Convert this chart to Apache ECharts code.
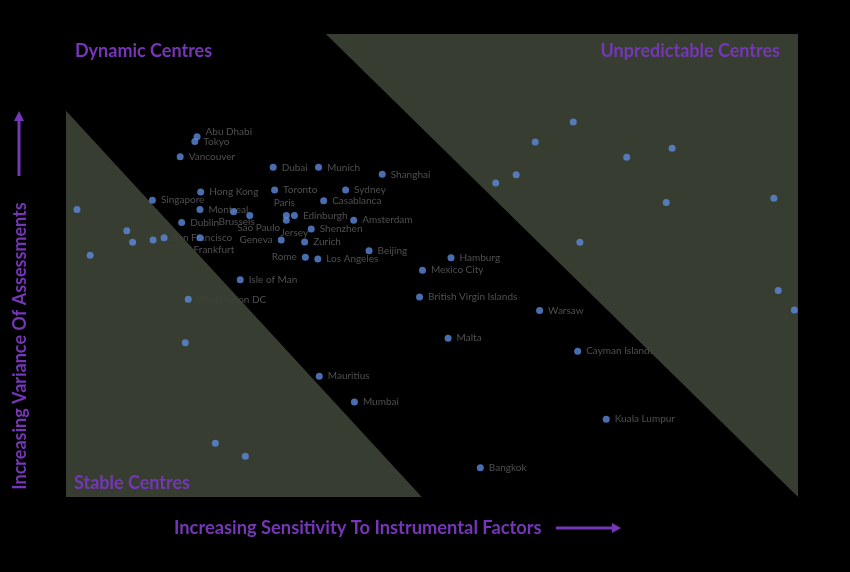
<!DOCTYPE html>
<html>
<head>
<meta charset="utf-8">
<script src="https://cdn.jsdelivr.net/npm/echarts@6/dist/echarts.min.js"></script>
<style>html,body{margin:0;padding:0;background:#000;}#c{width:850px;height:572px;}</style>
</head>
<body>
<div id="c"></div>
<script>
// City names ('' = point whose label is not legible in the reference)
const cities = [
  'Abu Dhabi','Tokyo','Vancouver','Dubai','Munich','Shanghai','Hong Kong','Toronto','Sydney','Singapore',
  'Casablanca','Montreal','Paris','Edinburgh','Brussels','Sao Paulo','Jersey','Dublin','Shenzhen','Amsterdam',
  'San Francisco','Frankfurt','Geneva','Zurich','Beijing','Rome','Los Angeles','Hamburg','Mexico City','Isle of Man',
  'Washington DC','British Virgin Islands','Warsaw','Malta','Cayman Islands','Mauritius','Mumbai','Kuala Lumpur','Bangkok',
  '','','','','','','','','','','','','','','','','','',''
];
// Sensitivity to instrumental factors (x)
const sensitivity = [
  17.9,17.6,15.6,28.3,34.5,43.2,18.4,28.5,38.2,11.8,
  35.2,18.3,30.1,31.2,22.9,25.1,30.1,15.8,33.5,39.3,
  13.4,18.3,29.4,32.6,41.4,32.7,34.4,52.6,48.7,23.8,
  16.7,48.3,64.7,52.2,69.9,34.6,39.4,73.8,56.6,
  1.5,8.3,9.1,11.9,3.3,16.3,20.4,24.5,69.3,64.1,76.6,82.8,61.5,58.7,82.0,96.7,70.2,97.3,99.5
];
// Variance of assessments (y)
const variance = [
  77.8,76.8,73.5,71.2,71.2,69.7,65.9,66.3,66.3,64.1,
  64.0,62.1,60.8,60.8,61.6,60.8,59.8,59.3,57.9,59.8,
  56.0,56.0,55.5,55.1,53.2,51.8,51.4,51.7,49.0,46.9,
  42.7,43.2,40.3,34.3,31.5,26.1,20.5,16.8,6.3,
  62.1,57.5,55.0,55.5,52.2,33.3,11.6,8.8,81.0,76.7,73.4,75.3,69.6,67.8,63.6,64.5,55.0,44.6,40.4
];
// Quadrant regions (in axis units)
const stableRegion = [[0,0],[0,83.4],[48.6,0]];
const unpredictableRegion = [[35.5,100],[100,100],[100,0]];
const regions = [stableRegion, unpredictableRegion];

// label placement overrides
const labelPlacement = {
  'Abu Dhabi': {position:'right', offset:[0,-5]},
  'Paris': {position:'top', offset:[-2,1]},
  'Jersey': {position:'bottom', offset:[8,-1]},
  'Brussels': {position:'bottom', offset:[3,-4]},
  'Sao Paulo': {position:'bottom', offset:[9,-1]},
  'Geneva': {position:'left'},
  'Rome': {position:'left'},
  'Frankfurt': {position:'bottom', offset:[14,-1]}
};

const labelItems = [];
cities.forEach((name,i)=>{
  if (!name) return;
  const item = {name:name, value:[sensitivity[i], variance[i]]};
  if (labelPlacement[name]) item.label = Object.assign({show:true}, labelPlacement[name]);
  labelItems.push(item);
});
const dotItems = cities.map((name,i)=>({name:name, value:[sensitivity[i], variance[i]]}));

const purple = '#7536b8';
const chart = echarts.init(document.getElementById('c'));
chart.setOption({
  backgroundColor:'#000',
  animation:false,
  grid:{left:66, top:34, width:732, height:463},
  xAxis:{type:'value', min:0, max:100, show:false},
  yAxis:{type:'value', min:0, max:100, show:false},
  series:[
    {
      // labels sit beneath the shaded regions, as in the reference
      type:'scatter', z:0, silent:true,
      symbolSize:7, itemStyle:{color:'rgba(0,0,0,0)'},
      label:{show:true, position:'right', distance:5, formatter:'{b}', color:'#636363', fontSize:10, fontFamily:'Lato'},
      data:labelItems
    },
    {
      type:'custom', silent:true, z:1,
      data:[[0],[1]],
      renderItem:function(params, api){
        const pts = regions[params.dataIndex].map(p=>api.coord(p));
        return {type:'polygon', shape:{points:pts}, style:{fill:'rgba(59,67,53,0.93)'}};
      }
    },
    {
      type:'scatter', z:5,
      symbolSize:7,
      itemStyle:{color:'#5b89dc'},
      data:dotItems
    }
  ],
  graphic:{elements:[
    {type:'text', z:100, left:75, top:42, style:{text:'Dynamic Centres', fill:purple, font:'bold 18px Lato'}},
    {type:'text', z:100, right:70, top:42, style:{text:'Unpredictable Centres', fill:purple, font:'bold 18px Lato'}},
    {type:'text', z:100, left:74, top:474, style:{text:'Stable Centres', fill:purple, font:'bold 18px Lato'}},
    {type:'text', z:100, left:174, top:519, style:{text:'Increasing Sensitivity To Instrumental Factors', fill:purple, font:'bold 18.3px Lato'}},
    {type:'line', z:100, shape:{x1:556, y1:528, x2:614, y2:528}, style:{stroke:purple, lineWidth:3}},
    {type:'polygon', z:100, shape:{points:[[612,523],[621,528],[612,533]]}, style:{fill:purple}},
    {type:'text', z:100, x:20, y:346, rotation:Math.PI/2, style:{text:'Increasing Variance Of Assessments', fill:purple, font:'bold 18px Lato', align:'center', verticalAlign:'middle'}},
    {type:'line', z:100, shape:{x1:19, y1:176, x2:19, y2:119}, style:{stroke:purple, lineWidth:3}},
    {type:'polygon', z:100, shape:{points:[[14,121],[19,111],[24,121]]}, style:{fill:purple}}
  ]}
});
</script>
</body>
</html>
